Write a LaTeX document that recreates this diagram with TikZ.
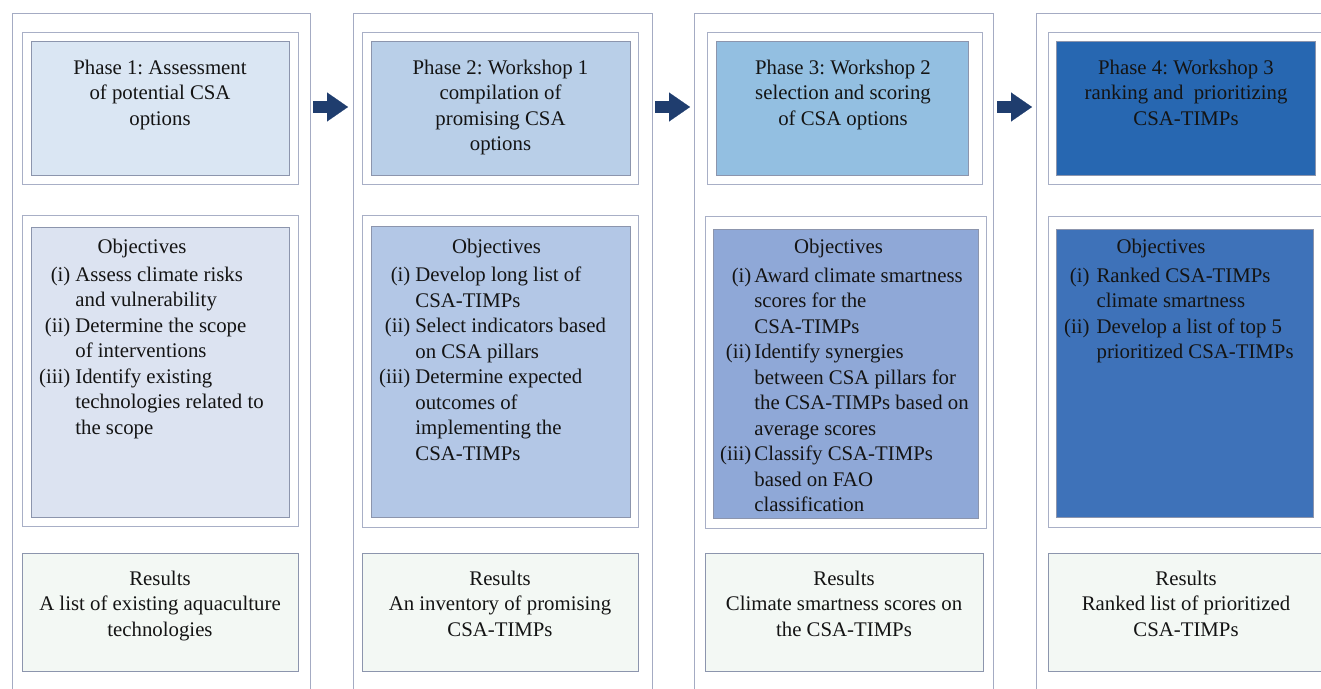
\documentclass[tikz,border=0pt]{standalone}
\usepackage{fontspec}
\setmainfont{Liberation Serif}
\usetikzlibrary{arrows.meta}
\definecolor{colline}{HTML}{A4ABC3}
\definecolor{frameline}{HTML}{A8AFC6}
\definecolor{inline}{HTML}{8C95AD}
\definecolor{resfill}{HTML}{F3F8F4}
\definecolor{arrowc}{HTML}{1F3D6E}
\definecolor{txtc}{HTML}{141414}
\definecolor{ph1}{HTML}{DAE6F3}
\definecolor{ph2}{HTML}{B9CFE8}
\definecolor{ph3}{HTML}{93BFE1}
\definecolor{ph4}{HTML}{2767B1}
\definecolor{ob1}{HTML}{DCE3F1}
\definecolor{ob2}{HTML}{B3C7E6}
\definecolor{ob3}{HTML}{8FA8D7}
\definecolor{ob4}{HTML}{3E72B9}
\tikzset{
  colbox/.style={draw=colline, line width=1.3pt, anchor=north west, inner sep=0pt},
  framebox/.style={draw=frameline, fill=white, line width=1.3pt, anchor=north west, inner sep=0pt},
  inbox/.style={draw=inline, line width=1.3pt, anchor=north west, inner sep=0pt},
  resbox/.style={draw=inline, fill=resfill, line width=1.3pt, anchor=north west, inner sep=0pt},
  txt/.style={font=\fontsize{20.8}{25.55}\selectfont\frenchspacing, inner sep=0pt, anchor=base, text=txtc},
  flow/.style={line width=12pt, draw=arrowc, -{Triangle[length=21pt,width=29pt,line width=0.1pt]}},
}
\begin{document}
\begin{tikzpicture}[x=1pt,y=-1pt]
\useasboundingbox (0,0) rectangle (1321,688);
% ---------- Column 1 ----------
\node[colbox, minimum width=298.5pt, minimum height=700pt] (c1) at (11.5,13) {};
\node[framebox, minimum width=276pt, minimum height=152pt] (f1) at (22,32) {};
\node[inbox, fill=ph1, minimum width=258pt, minimum height=134pt] (p1) at (31,41) {};
\node[framebox, minimum width=276pt, minimum height=311pt] (g1) at (22,215) {};
\node[inbox, fill=ob1, minimum width=258pt, minimum height=290pt] (o1) at (31,227) {};
\node[resbox, minimum width=276pt, minimum height=118pt] (r1) at (22,553) {};
\node[txt] (pt1) at (160,74) {\begin{tabular}[t]{@{}c@{}}Phase 1: Assessment\\ of potential CSA\\ options\end{tabular}};
\node[txt] (oh1) at (142,253) {Objectives};
\node[txt, anchor=base west] (ol1) at (39,281) {\begin{tabular}[t]{@{}r@{\hspace{5pt}}l@{}}(i) & Assess climate risks\\ & and vulnerability\\ (ii) & Determine the scope\\ & of interventions\\ (iii) & Identify existing\\ & technologies related to\\ & the scope\end{tabular}};
\node[txt] (rt1) at (160,585) {\begin{tabular}[t]{@{}c@{}}Results\\ A list of existing aquaculture\\ technologies\end{tabular}};
% ---------- Column 2 ----------
\node[colbox, minimum width=299pt, minimum height=700pt] (c2) at (352.5,13) {};
\node[framebox, minimum width=276pt, minimum height=152pt] (f2) at (362,32) {};
\node[inbox, fill=ph2, minimum width=259pt, minimum height=134pt] (p2) at (371,41) {};
\node[framebox, minimum width=276pt, minimum height=312pt] (g2) at (362,215) {};
\node[inbox, fill=ob2, minimum width=259pt, minimum height=291pt] (o2) at (371,226) {};
\node[resbox, minimum width=276pt, minimum height=118pt] (r2) at (362,553) {};
\node[txt] (pt2) at (500.5,74) {\begin{tabular}[t]{@{}c@{}}Phase 2: Workshop 1\\ compilation of\\ promising CSA\\ options\end{tabular}};
\node[txt] (oh2) at (496.5,253) {Objectives};
\node[txt, anchor=base west] (ol2) at (379,281.5) {\begin{tabular}[t]{@{}r@{\hspace{5pt}}l@{}}(i) & Develop long list of\\ & CSA-TIMPs\\ (ii) & Select indicators based\\ & on CSA pillars\\ (iii) & Determine expected\\ & outcomes of\\ & implementing the\\ & CSA-TIMPs\end{tabular}};
\node[txt] (rt2) at (500,585) {\begin{tabular}[t]{@{}c@{}}Results\\ An inventory of promising\\ CSA-TIMPs\end{tabular}};
% ---------- Column 3 ----------
\node[colbox, minimum width=299pt, minimum height=700pt] (c3) at (694,13) {};
\node[framebox, minimum width=275pt, minimum height=152pt] (f3) at (707,32) {};
\node[inbox, fill=ph3, minimum width=252pt, minimum height=134pt] (p3) at (716,41) {};
\node[framebox, minimum width=281pt, minimum height=312pt] (g3) at (705,216) {};
\node[inbox, fill=ob3, minimum width=265pt, minimum height=289pt] (o3) at (713,229) {};
\node[resbox, minimum width=278pt, minimum height=118pt] (r3) at (705,553) {};
\node[txt] (pt3) at (843,74) {\begin{tabular}[t]{@{}c@{}}Phase 3: Workshop 2\\ selection and scoring\\ of CSA options\end{tabular}};
\node[txt] (oh3) at (838.5,253) {Objectives};
\node[txt, anchor=base west] (ol3) at (720,282) {\begin{tabular}[t]{@{}r@{\hspace{3pt}}l@{}}(i) & Award climate smartness\\ & scores for the\\ & CSA-TIMPs\\ (ii) & Identify synergies\\ & between CSA pillars for\\ & the CSA-TIMPs based on\\ & average scores\\ (iii) & Classify CSA-TIMPs\\ & based on FAO\\ & classification\end{tabular}};
\node[txt] (rt3) at (844,585) {\begin{tabular}[t]{@{}c@{}}Results\\ Climate smartness scores on\\ the CSA-TIMPs\end{tabular}};
% ---------- Column 4 ----------
\node[colbox, minimum width=300pt, minimum height=700pt] (c4) at (1036,13) {};
\node[framebox, minimum width=276pt, minimum height=152pt] (f4) at (1048,32) {};
\node[inbox, fill=ph4, minimum width=259pt, minimum height=134pt] (p4) at (1056,41) {};
\node[framebox, minimum width=276pt, minimum height=311pt] (g4) at (1048,216) {};
\node[inbox, fill=ob4, minimum width=257pt, minimum height=288pt] (o4) at (1056,229) {};
\node[resbox, minimum width=276pt, minimum height=118pt] (r4) at (1048,553) {};
\node[txt] (pt4) at (1186,74) {\begin{tabular}[t]{@{}c@{}}Phase 4: Workshop 3\\ ranking and~ prioritizing\\ CSA-TIMPs\end{tabular}};
\node[txt] (oh4) at (1161,253) {Objectives};
\node[txt, anchor=base west] (ol4) at (1064,282) {\begin{tabular}[t]{@{}r@{\hspace{7pt}}l@{}}(i) & Ranked CSA-TIMPs\\ & climate smartness\\ (ii) & Develop a list of top 5\\ & prioritized CSA-TIMPs\end{tabular}};
\node[txt] (rt4) at (1186,585) {\begin{tabular}[t]{@{}c@{}}Results\\ Ranked list of prioritized\\ CSA-TIMPs\end{tabular}};
% ---------- Arrows ----------
\coordinate (a1s) at (313,107);
\coordinate (a1e) at (348,107);
\coordinate (a2s) at (655,107);
\coordinate (a2e) at (690,107);
\coordinate (a3s) at (997,107);
\coordinate (a3e) at (1032,107);
\draw[flow] (a1s) -- (a1e);
\draw[flow] (a2s) -- (a2e);
\draw[flow] (a3s) -- (a3e);
\end{tikzpicture}
\end{document}
